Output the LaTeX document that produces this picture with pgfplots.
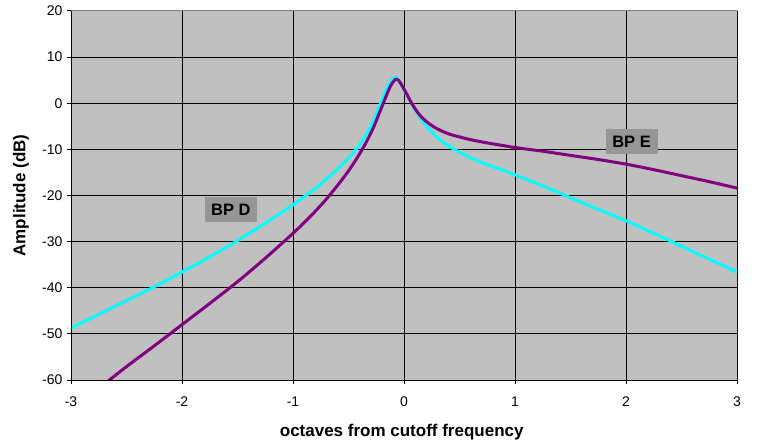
\documentclass[border=0pt]{standalone}
\usepackage{fontspec}
\setmainfont{Liberation Sans}
\usepackage{pgfplots}
\pgfplotsset{compat=1.18}

\definecolor{plotbg}{HTML}{C0C0C0}
\definecolor{boxbg}{HTML}{969696}
\definecolor{bpd}{HTML}{00FFFF}
\definecolor{bpe}{HTML}{800080}
\definecolor{frame}{HTML}{808080}

\begin{document}
\begin{tikzpicture}
\begin{axis}[
    width=666pt, height=369pt, scale only axis,
    xmin=-3, xmax=3, ymin=-60, ymax=20,
    xtick={-3,...,3}, ytick={-60,-50,...,20},
    /pgf/number format/assume math mode=true,
    grid=major,
    major grid style={black, line width=1pt},
    axis background/.style={fill=plotbg},
    axis line style={draw=none},
    tick pos=left, tick align=outside, major tick length=4pt,
    tick style={black, line width=1pt},
    ticklabel style={font=\fontsize{14}{16}\selectfont},
    yticklabel style={xshift=-1pt},
    xticklabel style={yshift=-9pt},
    xlabel={octaves from cutoff frequency},
    ylabel={Amplitude (dB)},
    label style={font=\fontsize{17}{20}\selectfont\bfseries},
    xlabel style={at={(axis description cs:0.4966,-0.142)}, anchor=center},
    ylabel style={at={(axis description cs:-0.075,0.5)}, anchor=center},
]
\coordinate (pa) at (rel axis cs:0,0);
\coordinate (pb) at (rel axis cs:1,1);

% BP D
\addplot[bpd, line width=3pt, smooth, tension=0.5] table {
x y
-3.0 -48.7
-2.75 -45.8
-2.5 -42.8
-2.25 -39.8
-2.0 -36.6
-1.75 -33.3
-1.5 -29.8
-1.25 -26.0
-1.0 -22.0
-0.8 -18.5
-0.65 -15.4
-0.5 -11.9
-0.4 -9.0
-0.3 -5.0
-0.22 -0.6
-0.16 2.9
-0.12 4.7
-0.08 5.6
-0.05 5.1
-0.02 3.9
0.02 2.1
0.06 0.3
0.1 -1.4
0.15 -3.3
0.2 -4.9
0.26 -6.5
0.33 -8.0
0.41 -9.4
0.5 -10.6
0.6 -11.8
0.75 -13.3
0.9 -14.6
1.0 -15.5
1.25 -17.9
1.5 -20.5
1.75 -23.0
2.0 -25.5
2.25 -28.2
2.5 -31.0
2.75 -33.8
3.0 -36.6
};

% BP E
\addplot[bpe, line width=3pt, smooth, tension=0.5] table {
x y
-2.7 -60.9
-2.5 -57.1
-2.25 -52.6
-2.0 -48.0
-1.75 -43.4
-1.5 -38.7
-1.25 -33.6
-1.0 -28.2
-0.85 -24.7
-0.7 -20.8
-0.55 -16.3
-0.45 -12.9
-0.35 -8.9
-0.28 -5.5
-0.22 -2.0
-0.16 1.6
-0.12 3.8
-0.08 5.1
-0.05 5.0
-0.02 3.9
0.02 2.2
0.06 0.4
0.1 -1.2
0.15 -2.8
0.2 -3.9
0.26 -5.0
0.33 -5.9
0.41 -6.7
0.5 -7.3
0.6 -7.9
0.75 -8.6
0.9 -9.2
1.0 -9.6
1.25 -10.4
1.5 -11.3
1.75 -12.2
2.0 -13.2
2.25 -14.4
2.5 -15.7
2.75 -17.0
3.0 -18.4
};

\draw[frame, line width=1pt] (rel axis cs:0,1) -- (rel axis cs:1,1) -- (rel axis cs:1,0);
\draw[black, line width=1pt] (rel axis cs:0,1) -- (rel axis cs:0,0) -- (rel axis cs:1,0);

\node[fill=boxbg, font=\fontsize{16.5}{19}\selectfont\bfseries,
      minimum width=52pt, minimum height=25pt, inner sep=0pt]
      at (axis cs:-1.56,-23.0) {BP D};
\node[fill=boxbg, font=\fontsize{16.5}{19}\selectfont\bfseries,
      minimum width=52pt, minimum height=25pt, inner sep=0pt]
      at (axis cs:2.05,-8.4) {BP E};
\end{axis}
\path (pa) ++(-71pt,-66pt) coordinate (bl);
\path (pb) ++(20pt,11pt) coordinate (tr);
\pgfresetboundingbox
\path (bl) rectangle (tr);
\end{tikzpicture}
\end{document}
